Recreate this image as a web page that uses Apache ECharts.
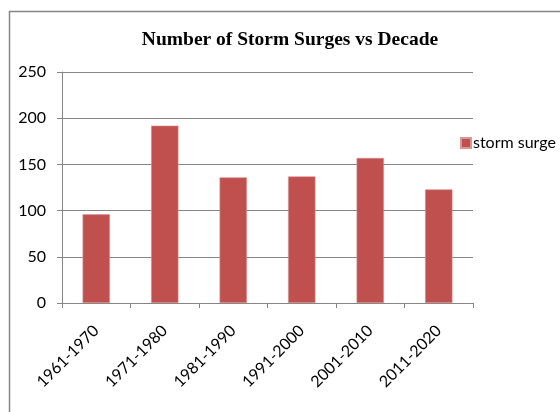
<!DOCTYPE html>
<html>
<head>
<meta charset="utf-8">
<script src="https://cdn.jsdelivr.net/npm/echarts@6/dist/echarts.min.js"></script>
<style>
  html, body { margin: 0; padding: 0; background: #fff; }
  #chart { width: 560px; height: 412px; }
</style>
</head>
<body>
<div id="chart"></div>
<script>
// Decades on the category axis
const decades = ['1961-1970', '1971-1980', '1981-1990', '1991-2000', '2001-2010', '2011-2020'];
// Storm surge counts per decade
const stormSurge = [96, 192, 136, 137, 157, 123];
// Value axis ticks
const yTicks = [0, 50, 100, 150, 200, 250];

const labelFont = 'Lato, "Noto Sans", sans-serif';
const gray = '#868686';

const chart = echarts.init(document.getElementById('chart'), null, { renderer: 'canvas' });
chart.setOption({
  backgroundColor: '#ffffff',
  animation: false,
  graphic: [{
    type: 'rect',
    left: 7, top: 9,
    shape: { width: 620, height: 480 },
    style: { fill: 'none', stroke: gray, lineWidth: 1.5 },
    silent: true
  }],
  title: {
    text: 'Number of Storm Surges vs Decade',
    left: 285, top: 25, textAlign: 'center',
    textStyle: {
      fontFamily: '"Liberation Serif", "Times New Roman", serif',
      fontWeight: 'bold', fontSize: 19.5, color: '#000'
    }
  },
  legend: {
    data: ['storm surge'],
    orient: 'vertical',
    left: 455, top: 130,
    itemWidth: 10, itemHeight: 10, itemGap: 4,
    icon: 'rect',
    textStyle: { fontFamily: labelFont, fontSize: 16, color: '#000', padding: [0, 0, 0, -3] }
  },
  grid: { left: 62, right: 87, top: 72, bottom: 109, containLabel: false },
  xAxis: {
    type: 'category',
    data: decades,
    axisLine: { lineStyle: { color: gray, width: 1 } },
    axisTick: { show: true, length: 5, lineStyle: { color: gray } },
    axisLabel: {
      rotate: 45, margin: 25, color: '#000',
      fontFamily: labelFont, fontSize: 16
    }
  },
  yAxis: {
    type: 'value',
    min: yTicks[0], max: yTicks[yTicks.length - 1], interval: 50,
    axisLine: { show: true, lineStyle: { color: gray, width: 1 } },
    axisTick: { show: true, length: 5, lineStyle: { color: gray } },
    splitLine: { lineStyle: { color: gray, width: 1 } },
    axisLabel: { color: '#000', fontFamily: labelFont, fontSize: 16, margin: 16 }
  },
  series: [{
    name: 'storm surge',
    type: 'bar',
    data: stormSurge,
    barWidth: '40%',
    itemStyle: { color: '#C0504D', borderColor: '#D99694', borderWidth: 0.6 }
  }]
});
</script>
</body>
</html>
